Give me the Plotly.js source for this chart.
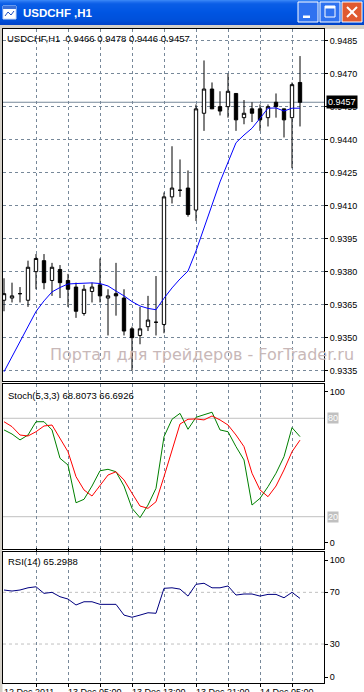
<!DOCTYPE html>
<html><head><meta charset="utf-8">
<script src="https://cdn.plot.ly/plotly-3.0.1.min.js"></script>
<style>html,body{margin:0;padding:0;background:#fff;overflow:hidden}#chart{width:364px;height:692px}</style>
</head><body><div id="chart"></div>
<script>
// ---------------- data ----------------
const windowTitle = "USDCHF ,H1";
const chartTitle = "USDCHF,H1";
const barIndex = [0,1,2,3,4,5,6,7,8,9,10,11,12,13,14,15,16,17,18,19,20,21,22,23,24,25,26,27,28,29,30,31,32,33,34,35,36,37];
const opens  = [0.9367,0.9368,0.9370,0.9367,0.9380,0.9385,0.9376,0.9381,0.9376,0.9373,0.9361,0.9371,0.9374,0.9368,0.9370,0.9368,0.9354,0.9351,0.9355,0.9357,0.9356,0.9414,0.9417,0.9418,0.9408,0.9452,0.9463,0.9455,0.9455,0.9461,0.9450,0.9454,0.9454,0.9450,0.9457,0.9454,0.9450,0.9466];
const highs  = [0.9377,0.9375,0.9373,0.9385,0.9388,0.9388,0.9384,0.9383,0.9379,0.9375,0.9374,0.9375,0.9386,0.9372,0.9384,0.9372,0.9355,0.9364,0.9369,0.9378,0.9416,0.9437,0.9431,0.9426,0.9456,0.9476,0.9466,0.9462,0.9470,0.9461,0.9458,0.9457,0.9456,0.9456,0.9461,0.9454,0.9466,0.9478];
const lows   = [0.9362,0.9366,0.9366,0.9364,0.9372,0.9372,0.9369,0.9368,0.9364,0.9359,0.9360,0.9366,0.9366,0.9351,0.9360,0.9351,0.9335,0.9347,0.9353,0.9351,0.9352,0.9411,0.9414,0.9405,0.9403,0.9444,0.9454,0.9451,0.9450,0.9444,0.9447,0.9448,0.9444,0.9446,0.9450,0.9441,0.9427,0.9446];
const closes = [0.9370,0.9369,0.9370,0.9382,0.9386,0.9375,0.9382,0.9375,0.9372,0.9362,0.9372,0.9373,0.9369,0.9369,0.9369,0.9353,0.9350,0.9354,0.9358,0.9357,0.9414,0.9418,0.9417,0.9406,0.9454,0.9463,0.9454,0.9453,0.9462,0.9449,0.9452,0.9452,0.9449,0.9455,0.9455,0.9449,0.9465,0.9457];
const maValues = [0.93345,0.93412,0.93480,0.93553,0.93619,0.93667,0.93708,0.93728,0.93744,0.93746,0.93747,0.93749,0.93746,0.93735,0.93712,0.93690,0.93664,0.93644,0.93633,0.93627,0.93679,0.93726,0.93767,0.93803,0.93894,0.93994,0.94103,0.94208,0.94294,0.94386,0.94421,0.94452,0.94497,0.94543,0.94544,0.94530,0.94543,0.94543];
const stochMain   = [72.9,70.4,66.8,69.8,77.9,77.9,72.9,55.6,51.5,28.5,30.6,38.7,48.0,48.9,47.4,38.7,25.1,19.4,27.1,37.3,68.8,79.4,83.0,73.3,80.6,82.0,83.7,72.9,71.8,62.7,54.6,27.1,31.2,38.3,46.5,56.6,74.3,68.8073];
const stochSignal = [77.9,74.9,69.8,69.2,71.8,75.3,75.9,67.8,59.6,44.4,36.3,32.6,39.3,45.4,47.4,42.4,34.3,26.5,25.1,29.1,44.4,61.1,76.5,79.4,79.6,79.0,81.4,79.0,75.9,69.8,62.7,46.5,36.3,32.2,38.7,48.5,59.6,66.6926];
const rsiValues = [71.8,71.0,71.8,73.5,74.3,69.2,70.0,66.6,64.8,60.2,62.7,62.7,60.7,60.7,60.7,52.4,50.7,52.4,54.2,53.8,73.1,73.5,72.5,67.1,76.2,77.0,73.5,73.5,74.9,67.9,68.7,68.7,67.1,68.4,68.4,65.8,70.0,65.2988];
const priceTicks = [0.9335,0.9350,0.9365,0.9380,0.9395,0.9410,0.9425,0.9440,0.9455,0.9470,0.9485];
const timeGridIdx = [4,8,12,16,20,24,28,32,36];
const timeLabelIdx = [0,8,16,24,32];
const timeLabels = ["12 Dec 2011","13 Dec 05:00","13 Dec 13:00","13 Dec 21:00","14 Dec 05:00"];
const stochLevels = [20,80];
const rsiLevels = [30,70];
const watermark = "Портал для трейдеров - ForTrader.ru";

// ---------------- geometry helpers ----------------
const W=364,H=692,ML=3,MR=40,MT=29,MB=9;
const PW=W-ML-MR, PH=H-MT-MB;
const px = x => (x-ML)/PW;
const py = y => (H-MB-y)/PH;
const FONT = "Liberation Sans, Arial, sans-serif";
const last = a => a[a.length-1];

// ---------------- traces ----------------
const traces = [
  {type:'candlestick', x:barIndex, open:opens, high:highs, low:lows, close:closes,
   xaxis:'x', yaxis:'y', whiskerwidth:0, hoverinfo:'skip',
   increasing:{line:{color:'#000000',width:1}, fillcolor:'#ffffff'},
   decreasing:{line:{color:'#000000',width:1}, fillcolor:'#000000'}, showlegend:false},
  {type:'scatter', mode:'lines', x:barIndex, y:maValues, xaxis:'x', yaxis:'y',
   line:{color:'#0000ff',width:1}, hoverinfo:'skip', showlegend:false},
  {type:'scatter', mode:'lines', x:barIndex, y:stochMain, xaxis:'x', yaxis:'y2',
   line:{color:'#008000',width:1}, hoverinfo:'skip', showlegend:false},
  {type:'scatter', mode:'lines', x:barIndex, y:stochSignal, xaxis:'x', yaxis:'y2',
   line:{color:'#ff0000',width:1}, hoverinfo:'skip', showlegend:false},
  {type:'scatter', mode:'lines', x:barIndex, y:rsiValues, xaxis:'x', yaxis:'y3',
   line:{color:'#000080',width:1}, hoverinfo:'skip', showlegend:false}
];

// ---------------- shapes ----------------
const shapes = [];
// window chrome: title bar gradient
const grad = [[0,[60,138,247]],[2,[30,110,238]],[4,[10,93,230]],[12,[0,85,227]],[20,[0,80,218]],[25,[0,66,200]]];
function colAt(y){
  for(let i=0;i<grad.length-1;i++){const a=grad[i],b=grad[i+1];
    if(y>=a[0]&&y<=b[0]){const t=(y-a[0])/(b[0]-a[0]);
      return 'rgb('+a[1].map((v,k)=>Math.round(v+(b[1][k]-v)*t)).join(',')+')';}}
  return 'rgb(0,66,200)';
}
for(let y=0;y<25;y++){
  shapes.push({type:'rect',xref:'paper',yref:'paper',x0:px(0),x1:px(W),y0:py(y+1),y1:py(y),
    fillcolor:colAt(y+0.5),line:{width:0},layer:'above'});
}
// strip below title bar and left border
shapes.push({type:'rect',xref:'paper',yref:'paper',x0:px(0),x1:px(W),y0:py(29),y1:py(25),fillcolor:'#d4d0c8',line:{width:0},layer:'below'});
shapes.push({type:'rect',xref:'paper',yref:'paper',x0:px(0),x1:px(2.5),y0:py(H),y1:py(25),fillcolor:'#d4d0c8',line:{width:0},layer:'below'});
// icon
shapes.push({type:'rect',xref:'paper',yref:'paper',x0:px(3),x1:px(16),y0:py(19),y1:py(6),fillcolor:'#ffffff',line:{color:'#c8d8f8',width:1},layer:'above'});
shapes.push({type:'rect',xref:'paper',yref:'paper',x0:px(3),x1:px(16),y0:py(9),y1:py(6),fillcolor:'#3a70d8',line:{width:0},layer:'above'});
shapes.push({type:'path',xref:'paper',yref:'paper',path:'M'+px(5)+','+py(16)+' L'+px(8)+','+py(12)+' L'+px(11)+','+py(15)+' L'+px(14)+','+py(11),line:{color:'#2050c0',width:1},layer:'above'});
// buttons
const btn = (x0,fill)=>({type:'rect',xref:'paper',yref:'paper',x0:px(x0),x1:px(x0+20),y0:py(22),y1:py(2),fillcolor:fill,line:{color:'#ffffff',width:1},layer:'above'});
shapes.push(btn(298,'#2f72f0'), btn(320,'#2f72f0'), btn(342,'#e05a30'));
shapes.push({type:'rect',xref:'paper',yref:'paper',x0:px(303),x1:px(310),y0:py(18),y1:py(15.5),fillcolor:'#ffffff',line:{width:0},layer:'above'});
shapes.push({type:'rect',xref:'paper',yref:'paper',x0:px(325),x1:px(335),y0:py(17),y1:py(6),fillcolor:'rgba(0,0,0,0)',line:{color:'#ffffff',width:1},layer:'above'});
shapes.push({type:'rect',xref:'paper',yref:'paper',x0:px(325),x1:px(335),y0:py(8.5),y1:py(6),fillcolor:'#ffffff',line:{width:0},layer:'above'});
shapes.push({type:'line',xref:'paper',yref:'paper',x0:px(347),x1:px(357),y0:py(7),y1:py(17),line:{color:'#ffffff',width:2},layer:'above'});
shapes.push({type:'line',xref:'paper',yref:'paper',x0:px(357),x1:px(347),y0:py(7),y1:py(17),line:{color:'#ffffff',width:2},layer:'above'});
// bid line
shapes.push({type:'line',xref:'paper',yref:'y',x0:0,x1:1,y0:last(closes),y1:last(closes),line:{color:'#778899',width:1},layer:'below'});
// stoch levels
stochLevels.forEach(v=>shapes.push({type:'line',xref:'paper',yref:'y2',x0:0,x1:1,y0:v,y1:v,line:{color:'#c0c0c0',width:1},layer:'below'}));
// rsi levels
rsiLevels.forEach(v=>shapes.push({type:'line',xref:'paper',yref:'y3',x0:0,x1:1,y0:v,y1:v,line:{color:'#c0c0c0',width:1,dash:'3px,3px'},layer:'below'}));

// ---------------- annotations ----------------
const ann = [];
ann.push({xref:'paper',yref:'paper',x:px(21),y:py(13),xanchor:'left',yanchor:'middle',showarrow:false,
  text:'<b>'+windowTitle+'</b>',font:{family:FONT,size:11.5,color:'#ffffff'}});
ann.push({xref:'paper',yref:'paper',x:px(5),y:py(38),xanchor:'left',yanchor:'middle',showarrow:false,
  text:chartTitle+'\u00a0\u00a0'+[last(opens),Math.max(...highs.slice(-1)),last(lows),last(closes)].map(v=>v.toFixed(4)).join(' '),
  font:{family:FONT,size:9.5,color:'#000000'}});
ann.push({xref:'paper',yref:'paper',x:px(6),y:py(395),xanchor:'left',yanchor:'middle',showarrow:false,
  text:'Stoch(5,3,3) '+last(stochMain).toFixed(4)+' '+last(stochSignal).toFixed(4),font:{family:FONT,size:9.5,color:'#000000'}});
ann.push({xref:'paper',yref:'paper',x:px(6),y:py(561.5),xanchor:'left',yanchor:'middle',showarrow:false,
  text:'RSI(14) '+last(rsiValues).toFixed(4),font:{family:FONT,size:9.5,color:'#000000'}});
ann.push({xref:'paper',yref:'paper',x:px(201.5),y:py(354),xanchor:'center',yanchor:'middle',showarrow:false,
  text:watermark,font:{family:'DejaVu Sans, sans-serif',size:16,color:'#c8b8b8'}});
ann.push({xref:'paper',yref:'y',x:px(326),y:last(closes),xanchor:'left',yanchor:'middle',showarrow:false,
  text:last(closes).toFixed(4),font:{family:FONT,size:9,color:'#ffffff'},bgcolor:'#000000',borderpad:1});
stochLevels.forEach(v=>ann.push({xref:'paper',yref:'y2',x:px(327),y:v,xanchor:'left',yanchor:'middle',showarrow:false,
  text:String(v),font:{family:FONT,size:9,color:'#ffffff'},bgcolor:'#c0c0c0',borderpad:0}));
timeLabelIdx.forEach((ix,k)=>ann.push({xref:'x',yref:'paper',x:ix,y:py(685),xanchor:'left',yanchor:'top',showarrow:false,
  text:timeLabels[k],font:{family:FONT,size:9,color:'#000000'},xshift:-2}));

// ---------------- layout ----------------
const yBase = {side:'right',showline:true,mirror:true,linecolor:'#000000',linewidth:1,zeroline:false,
  ticks:'outside',ticklen:3,tickcolor:'#000000',tickfont:{family:FONT,size:9,color:'#000000'},fixedrange:true};
const layout = {
  width:W,height:H,margin:{l:ML,r:MR,t:MT,b:MB,pad:0},
  paper_bgcolor:'#ffffff',plot_bgcolor:'#ffffff',showlegend:false,boxgap:0.4,
  xaxis:{anchor:'y3',domain:[0,1],range:[-0.125,40],tickvals:timeGridIdx,showticklabels:false,
    ticks:'outside',ticklen:3,tickcolor:'#000000',showgrid:true,gridcolor:'#778899',griddash:'3px,3px',gridwidth:1,
    showline:true,mirror:'all',linecolor:'#000000',linewidth:1,zeroline:false,rangeslider:{visible:false},fixedrange:true},
  yaxis:Object.assign({},yBase,{domain:[py(381),py(29)],range:[0.93303,0.94903],tickvals:priceTicks,
    ticktext:priceTicks.map(v=>v.toFixed(4)),showgrid:true,gridcolor:'#778899',griddash:'3px,3px',gridwidth:1}),
  yaxis2:Object.assign({},yBase,{domain:[py(549),py(384)],range:[0.3,100.9],tickvals:[4,96.2],ticktext:['0','100'],showgrid:false}),
  yaxis3:Object.assign({},yBase,{domain:[py(683),py(552)],range:[-0.15,101.2],tickvals:[4.3,30,70,95],ticktext:['0','30','70','100'],showgrid:false}),
  shapes:shapes, annotations:ann
};
Plotly.newPlot('chart',traces,layout,{staticPlot:true,displayModeBar:false});
</script></body></html>
